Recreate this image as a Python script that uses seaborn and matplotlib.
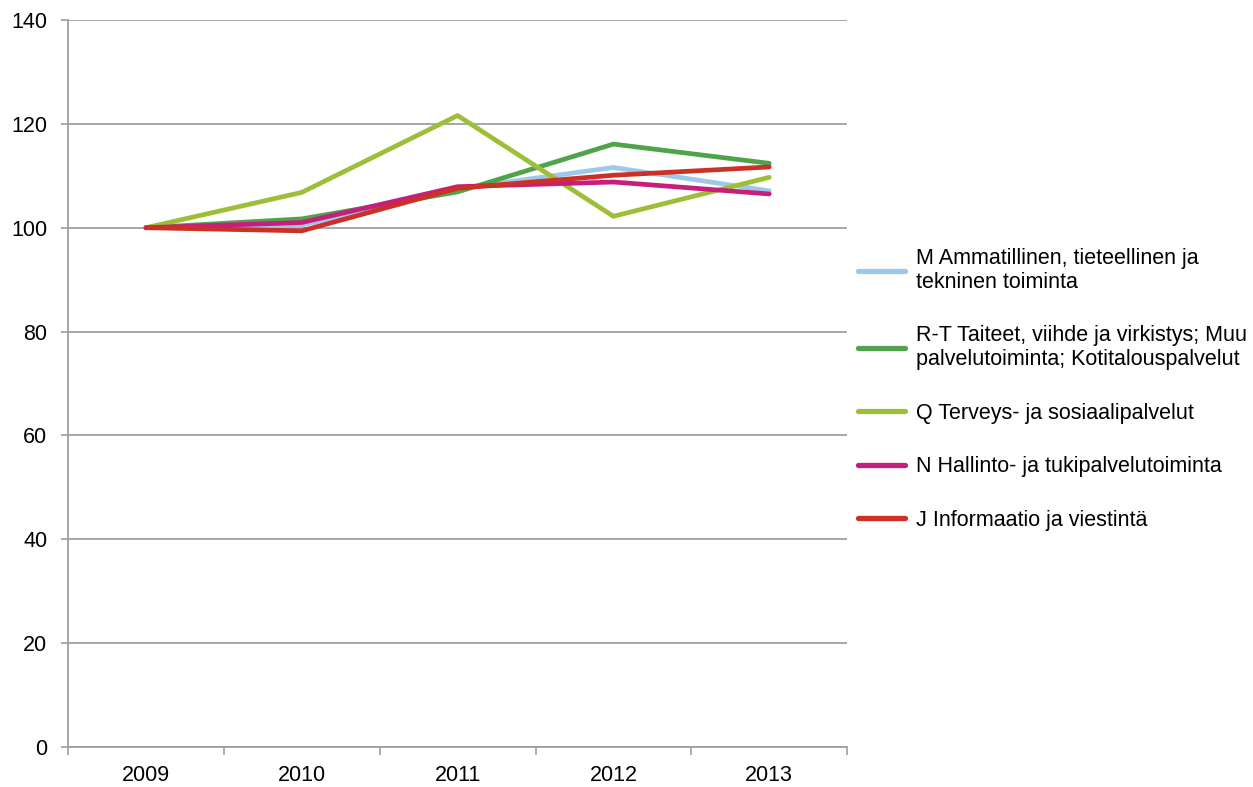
import pandas as pd
import matplotlib.pyplot as plt
import seaborn as sns
from matplotlib.ticker import FixedLocator

# Vuodet ja indeksisarjat (2009 = 100)
vuodet = ['2009', '2010', '2011', '2012', '2013']
m_ammatillinen = [100, 100.5, 107.5, 111.6, 107.1]
rt_taiteet = [100, 101.7, 106.9, 116.1, 112.4]
q_terveys = [100, 106.8, 121.6, 102.2, 109.7]
n_hallinto = [100, 101.0, 107.9, 108.8, 106.5]
j_informaatio = [100, 99.4, 107.6, 110.1, 111.7]

nimet = ['M Ammatillinen, tieteellinen ja\ntekninen toiminta',
         'R-T Taiteet, viihde ja virkistys; Muu\npalvelutoiminta; Kotitalouspalvelut',
         'Q Terveys- ja sosiaalipalvelut',
         'N Hallinto- ja tukipalvelutoiminta',
         'J Informaatio ja viestintä']
varit = ['#9DC8EA', '#4FA34B', '#9DBE36', '#C71E7D', '#CB3127']

sarjat = [m_ammatillinen, rt_taiteet, q_terveys, n_hallinto, j_informaatio]
rivit = []
for nimi, arvot in zip(nimet, sarjat):
    for i, a in enumerate(arvot):
        rivit.append({'x': i, 'arvo': a, 'sarja': nimi})
df = pd.DataFrame(rivit)

sns.set_style('white')
plt.rcParams['font.family'] = ['Liberation Sans', 'DejaVu Sans']
plt.rcParams['text.color'] = 'black'

fig = plt.figure(figsize=(12.53, 7.87), dpi=100)
ax = fig.add_axes([0.0543, 0.0508, 0.6218, 0.9238])

sns.lineplot(data=df, x='x', y='arvo', hue='sarja', palette=dict(zip(nimet, varit)),
             linewidth=3.4, ax=ax, legend=True)

ax.set_xlim(-0.5, 4.5)
ax.set_ylim(0, 140)
ax.set_yticks(range(0, 141, 20))
ax.yaxis.grid(True, color='#A0A0A0', linewidth=1.3)
ax.set_axisbelow(True)

ax.set_xticks(range(len(vuodet)))
ax.set_xticklabels(vuodet)
ax.xaxis.set_minor_locator(FixedLocator([i - 0.5 for i in range(len(vuodet) + 1)]))
ax.tick_params(axis='x', which='major', length=0, pad=13, labelsize=15.5, labelcolor='black')
ax.tick_params(axis='x', which='minor', length=6, width=1.2, color='#A0A0A0', direction='out')
ax.tick_params(axis='y', which='major', length=5, width=1.2, color='#A0A0A0', direction='out',
               labelsize=15.5, labelcolor='black', pad=10)
ax.xaxis.set_ticks_position('bottom')
ax.yaxis.set_ticks_position('left')

for s in ['top', 'right']:
    ax.spines[s].set_visible(False)
for s in ['left', 'bottom']:
    ax.spines[s].set_color('#A0A0A0')
    ax.spines[s].set_linewidth(1.3)

ax.set_xlabel('')
ax.set_ylabel('')

leg = ax.legend(loc='upper left', bbox_to_anchor=(1.014, 0.687), frameon=False,
                fontsize=15.5, handlelength=2.2, handletextpad=0.47, labelspacing=1.51,
                borderaxespad=0, borderpad=0)
for h in leg.get_lines():
    h.set_linewidth(3.8)
for t in leg.get_texts():
    t.set_color('black')

fig.savefig('out.png', dpi=100)
